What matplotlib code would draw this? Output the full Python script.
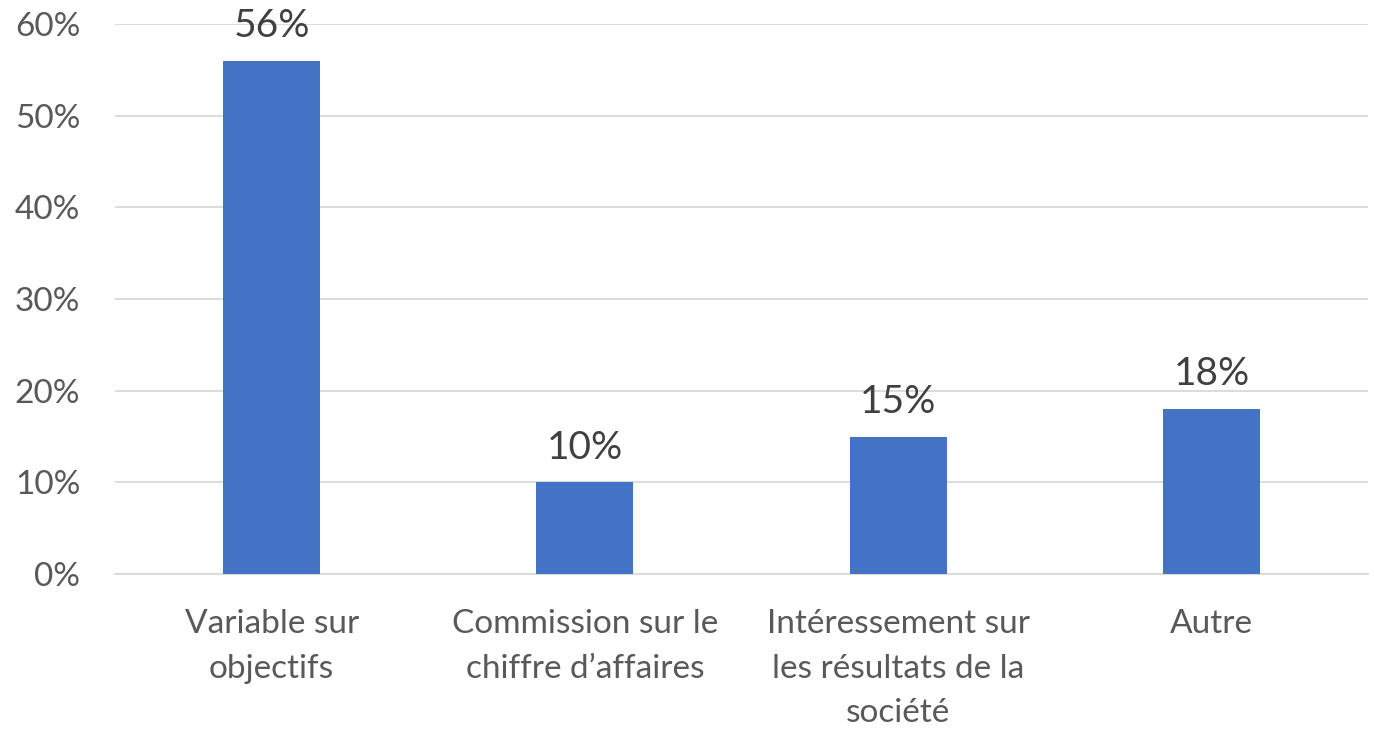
import matplotlib
matplotlib.use("Agg")
import matplotlib.pyplot as plt
from matplotlib.ticker import FuncFormatter

categories = ["Variable sur\nobjectifs", "Commission sur le\nchiffre d\u2019affaires",
              "Int\u00e9ressement sur\nles r\u00e9sultats de la\nsoci\u00e9t\u00e9", "Autre"]
values = [56, 10, 15, 18]
yticks = [0, 10, 20, 30, 40, 50, 60]

plt.rcParams['font.family'] = ['Lato', 'DejaVu Sans']

fig = plt.figure(figsize=(13.74, 7.29), dpi=100)
ax = fig.add_axes([0.0837, 0.2126, 0.912, 0.7544])

x = list(range(len(categories)))
bars = ax.bar(x, values, width=0.31, color="#4472C4", zorder=3)
ax.set_xlim(-0.5, len(categories) - 0.5)
ax.set_ylim(0, 60)
ax.set_yticks(yticks)
ax.yaxis.set_major_formatter(FuncFormatter(lambda v, p: f"{int(v)}%"))
ax.grid(axis="y", color="#D9D9D9", linewidth=1.3, zorder=0)
for s in ["top", "right", "left"]:
    ax.spines[s].set_visible(False)
ax.spines["bottom"].set_color("#D9D9D9")
ax.spines["bottom"].set_linewidth(1.3)
ax.tick_params(axis="both", length=0, colors="#595959")
ax.tick_params(axis="y", pad=25, labelsize=24)
ax.tick_params(axis="x", pad=25, labelsize=24)
ax.set_xticks(x)
ax.set_xticklabels(categories, linespacing=1.62)

for b, v in zip(bars, values):
    ax.annotate(f"{v}%", (b.get_x() + b.get_width() / 2, v), xytext=(0, 12),
                textcoords="offset points", ha="center", va="bottom",
                fontsize=28, color="#404040")

fig.savefig("out.png", dpi=100)
